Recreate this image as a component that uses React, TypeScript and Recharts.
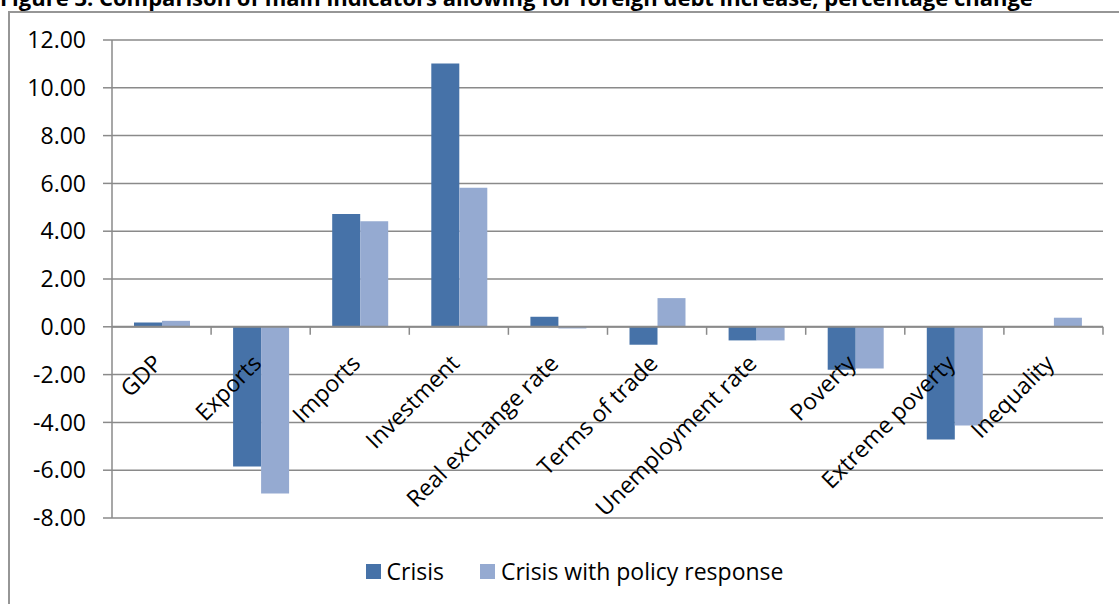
import { Bar, BarChart, CartesianGrid, Legend, ReferenceLine, XAxis, YAxis } from 'recharts'

const categories = [
  'GDP',
  'Exports',
  'Imports',
  'Investment',
  'Real exchange rate',
  'Terms of trade',
  'Unemployment rate',
  'Poverty',
  'Extreme poverty',
  'Inequality',
]
const crisis = [0.18, -5.85, 4.72, 11.02, 0.42, -0.75, -0.57, -1.8, -4.72, 0]
const policyResponse = [0.25, -6.98, 4.42, 5.82, -0.07, 1.2, -0.57, -1.74, -4.13, 0.38]
const seriesNames = ['Crisis', 'Crisis with policy response']
const yTicks = [-8, -6, -4, -2, 0, 2, 4, 6, 8, 10, 12]

const W = 1119
const H = 604
const Y_MIN = -8
const Y_MAX = 12
const PLOT_TOP = 40
const PLOT_BOTTOM = 518
const PLOT_LEFT = 112
const PLOT_RIGHT = 1103
const AXIS = '#8a8a8a'
const FONT = '"Open Sans", sans-serif'
const COLORS = ['#4672a8', '#95aad1']

const rows = categories.map((name, i) => ({
  name,
  crisis: crisis[i],
  policy: policyResponse[i],
}))

// category label + the small tick mark at the right edge of each band, both hung off the zero line
function CategoryTick(props: any) {
  const { x, payload } = props
  const zeroY = PLOT_TOP + (Y_MAX / (Y_MAX - Y_MIN)) * (PLOT_BOTTOM - PLOT_TOP)
  const band = (PLOT_RIGHT - PLOT_LEFT) / categories.length
  const tx = x + 2
  const ty = zeroY + 38
  return (
    <g>
      <line x1={x + band / 2} x2={x + band / 2} y1={zeroY} y2={zeroY + 8} stroke={AXIS} strokeWidth={1.5} />
      <text
        x={tx}
        y={ty}
        transform={`rotate(-45, ${tx}, ${ty})`}
        textAnchor="end"
        fontFamily={FONT}
        fontSize={23}
        fill="#000"
      >
        {payload.value}
      </text>
    </g>
  )
}

function LegendBox() {
  return (
    <div style={{ display: 'flex', justifyContent: 'center', alignItems: 'center', height: 30, fontFamily: FONT, fontSize: 23, color: '#000' }}>
      {seriesNames.map((s, i) => (
        <div key={s} style={{ display: 'flex', alignItems: 'center', marginLeft: i ? 36 : 0 }}>
          <span style={{ display: 'inline-block', width: 15, height: 15, background: COLORS[i], marginRight: 6 }} />
          <span>{s}</span>
        </div>
      ))}
    </div>
  )
}

export default function App() {
  return (
    <div style={{ position: 'absolute', left: 0, top: 0, width: W, height: H, overflow: 'hidden', background: '#fff' }}>
      <svg width={W} height={20} style={{ position: 'absolute', left: 0, top: 0 }}>
        <text x={0} y={6} fontFamily={FONT} fontWeight={700} fontSize={22} fill="#000">
          Figure 3. Comparison of main indicators allowing for foreign debt increase, percentage change
        </text>
      </svg>
      <div
        style={{
          position: 'absolute',
          left: 8,
          top: 11,
          width: W,
          height: H,
          borderLeft: '2px solid #969696',
          borderTop: '2px solid #969696',
        }}
      />
      <div style={{ position: 'absolute', left: 0, top: 0 }}>
        <BarChart
          width={W}
          height={H}
          data={rows}
          margin={{ top: PLOT_TOP, right: W - PLOT_RIGHT, bottom: 26, left: 32 }}
          barSize={28}
          barGap={0}
        >
          <CartesianGrid vertical={false} stroke={AXIS} strokeWidth={1.5} />
          <XAxis
            dataKey="name"
            height={30}
            axisLine={false}
            tickLine={false}
            interval={0}
            tick={<CategoryTick />}
          />
          <YAxis
            width={80}
            domain={[Y_MIN, Y_MAX]}
            ticks={yTicks}
            interval={0}
            tickFormatter={(v: number) => v.toFixed(2)}
            axisLine={{ stroke: AXIS, strokeWidth: 1.5 }}
            tickLine={{ stroke: AXIS, strokeWidth: 1.5 }}
            tickSize={9}
            tickMargin={17}
            tick={{ fill: '#000', fontSize: 23, fontFamily: FONT }}
          />
          <Legend
            verticalAlign="bottom"
            content={() => <LegendBox />}
            wrapperStyle={{ left: 15, width: W, top: 556, bottom: 'auto' }}
          />
          <Bar dataKey="crisis" name={seriesNames[0]} fill={COLORS[0]} isAnimationActive={false} />
          <Bar dataKey="policy" name={seriesNames[1]} fill={COLORS[1]} isAnimationActive={false} />
          <ReferenceLine y={0} stroke={AXIS} strokeWidth={2} />
        </BarChart>
      </div>
    </div>
  )
}
